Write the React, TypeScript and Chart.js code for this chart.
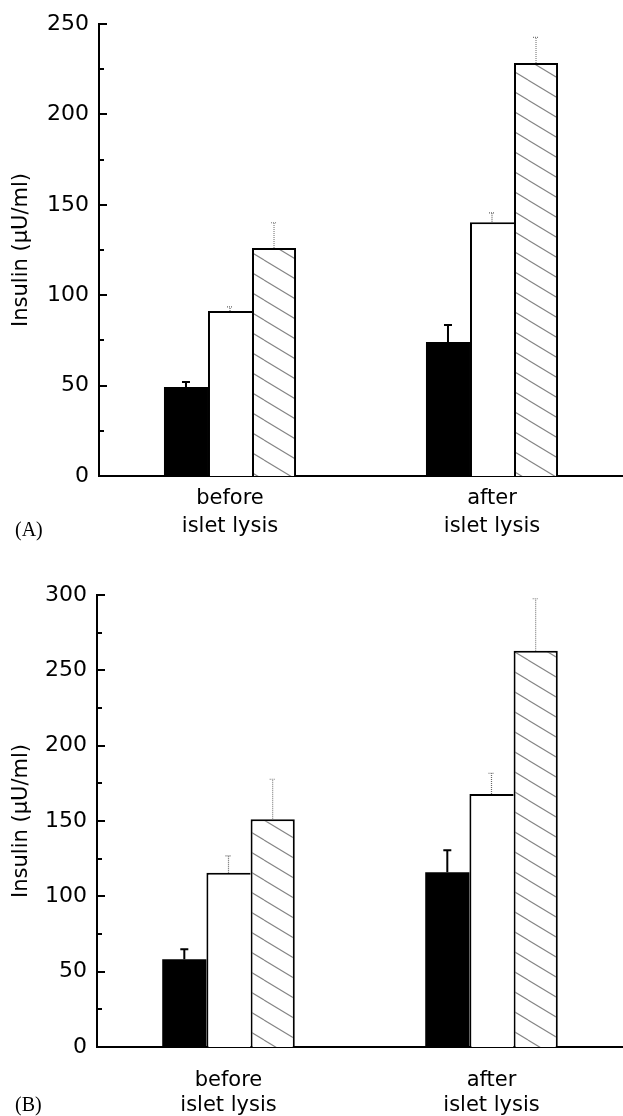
import React, { useEffect, useRef } from "react";
import { Chart, registerables } from "chart.js";

Chart.register(...registerables);

// ---------- data ----------
const categories = [["before", "islet lysis"], ["after", "islet lysis"]];
const seriesNames = ["Group 1", "Group 2", "Group 3"];
const yTitle = "Insulin (μU/ml)";

const panelA_black = [49.2, 74.1];
const panelA_white = [91.3, 140.4];
const panelA_hatched = [126.1, 228.4];
const panelA_blackErr = [2.8, 9.4];
const panelA_whiteErr = [2.2, 5.1];
const panelA_hatchedErr = [14, 14.2];
const panelA_ticks = [0, 50, 100, 150, 200, 250];

const panelB_black = [58.2, 116];
const panelB_white = [115.7, 168];
const panelB_hatched = [151.2, 263];
const panelB_blackErr = [6.7, 14.6];
const panelB_whiteErr = [11.1, 13.7];
const panelB_hatchedErr = [26.5, 34.5];
const panelB_ticks = [0, 50, 100, 150, 200, 250, 300];

// ---------- layout ----------
const FONT = "'DejaVu Sans', sans-serif";
const W = 623;

const panels = [
  {
    tag: "(A)",
    top: 0,
    height: 560,
    axisX: 99,
    plotTop: 24,
    plotBottom: 476,
    labelPad: 9,
    labelLH: 28 / 21,
    tagTop: 519,
    black: panelA_black,
    white: panelA_white,
    hatched: panelA_hatched,
    blackErr: panelA_blackErr,
    whiteErr: panelA_whiteErr,
    hatchedErr: panelA_hatchedErr,
    ticks: panelA_ticks,
  },
  {
    tag: "(B)",
    top: 560,
    height: 556,
    axisX: 97,
    plotTop: 35,
    plotBottom: 487,
    labelPad: 21,
    labelLH: 25 / 21,
    tagTop: 1094,
    black: panelB_black,
    white: panelB_white,
    hatched: panelB_hatched,
    blackErr: panelB_blackErr,
    whiteErr: panelB_whiteErr,
    hatchedErr: panelB_hatchedErr,
    ticks: panelB_ticks,
  },
];

function makeHatch(ctx: CanvasRenderingContext2D) {
  const c = document.createElement("canvas");
  c.width = 33;
  c.height = 20;
  const g = c.getContext("2d")!;
  g.fillStyle = "#fff";
  g.fillRect(0, 0, 33, 20);
  g.strokeStyle = "#858585";
  g.lineWidth = 1.1;
  for (const dy of [-20, 0, 20]) {
    g.beginPath();
    g.moveTo(0, dy);
    g.lineTo(33, dy + 20);
    g.stroke();
  }
  return ctx.createPattern(c, "repeat")!;
}

const errorBarPlugin = {
  id: "errorBars",
  afterDatasetsDraw(chart: any) {
    const { ctx } = chart;
    const y = chart.scales.y;
    chart.data.datasets.forEach((ds: any, i: number) => {
      const meta = chart.getDatasetMeta(i);
      meta.data.forEach((el: any, j: number) => {
        const v = ds.data[j];
        const e = ds.errors[j];
        const yBar = y.getPixelForValue(v);
        const yTop = y.getPixelForValue(v + e);
        ctx.save();
        ctx.strokeStyle = ds.errorColor;
        ctx.lineWidth = ds.errorWidth;
        ctx.setLineDash(ds.errorDash);
        ctx.beginPath();
        ctx.moveTo(el.x, yBar);
        ctx.lineTo(el.x, yTop);
        ctx.moveTo(el.x - ds.errorCap, yTop);
        ctx.lineTo(el.x + ds.errorCap, yTop);
        ctx.stroke();
        ctx.restore();
      });
    });
  },
};

const innerTicksPlugin = {
  id: "innerTicks",
  afterDraw(chart: any) {
    const { ctx } = chart;
    const y = chart.scales.y;
    const left = chart.chartArea.left;
    const vals: number[] = y.ticks.map((t: any) => t.value);
    ctx.save();
    ctx.strokeStyle = "#000";
    ctx.lineWidth = 2;
    ctx.beginPath();
    vals.forEach((v, k) => {
      const py = Math.round(y.getPixelForValue(v));
      ctx.moveTo(left, py);
      ctx.lineTo(left + 8, py);
      if (k < vals.length - 1) {
        const mid = (v + vals[k + 1]) / 2;
        const pm = Math.round(y.getPixelForValue(mid));
        ctx.moveTo(left, pm);
        ctx.lineTo(left + 5, pm);
      }
    });
    ctx.stroke();
    ctx.restore();
  },
};

function Panel({ cfg }: { cfg: any }) {
  const ref = useRef<HTMLCanvasElement>(null);
  useEffect(() => {
    const canvas = ref.current!;
    const ctx = canvas.getContext("2d")!;
    const hatch = makeHatch(ctx);
    const ticks: number[] = cfg.ticks;
    const chart = new Chart(ctx, {
      type: "bar",
      data: {
        labels: categories,
        datasets: [
          {
            label: seriesNames[0],
            data: cfg.black,
            errors: cfg.blackErr,
            backgroundColor: "#000",
            borderWidth: 0,
            errorColor: "#000",
            errorWidth: 2,
            errorDash: [],
            errorCap: 4,
          } as any,
          {
            label: seriesNames[1],
            data: cfg.white,
            errors: cfg.whiteErr,
            backgroundColor: "#fff",
            borderColor: "#000",
            borderWidth: { top: 2, left: 2, right: 0, bottom: 0 },
            errorColor: "#666",
            errorWidth: 1.2,
            errorDash: [1, 1],
            errorCap: 3,
          } as any,
          {
            label: seriesNames[2],
            data: cfg.hatched,
            errors: cfg.hatchedErr,
            backgroundColor: hatch,
            borderColor: "#000",
            borderWidth: 2,
            errorColor: "#777",
            errorWidth: 1.1,
            errorDash: [1, 1],
            errorCap: 3,
          } as any,
        ],
      },
      options: {
        responsive: false,
        animation: false,
        devicePixelRatio: 1,
        layout: { padding: { top: cfg.plotTop, left: 0, right: 0, bottom: 0 } },
        datasets: { bar: { barPercentage: 1, categoryPercentage: 0.504 } },
        plugins: { legend: { display: false }, tooltip: { enabled: false } },
        scales: {
          x: {
            type: "category",
            offset: true,
            grid: { display: false, drawTicks: false },
            border: { display: true, color: "#000", width: 2 },
            ticks: {
              color: "#000",
              font: { family: FONT, size: 21, lineHeight: cfg.labelLH },
              padding: cfg.labelPad,
              maxRotation: 0,
              autoSkip: false,
            },
            afterFit: (s: any) => {
              s.height = cfg.height - cfg.plotBottom;
            },
          },
          y: {
            min: ticks[0],
            max: ticks[ticks.length - 1],
            grid: { display: false, drawTicks: false },
            border: { display: true, color: "#000", width: 2 },
            ticks: {
              color: "#000",
              font: { family: FONT, size: 22 },
              padding: 10,
            },
            afterBuildTicks: (s: any) => {
              s.ticks = ticks.map((v) => ({ value: v }));
            },
            title: {
              display: true,
              text: yTitle,
              color: "#000",
              font: { family: FONT, size: 21 },
              padding: { top: 9, bottom: 0 },
            },
            afterFit: (s: any) => {
              s.width = cfg.axisX;
            },
          },
        },
      } as any,
      plugins: [errorBarPlugin, innerTicksPlugin],
    });
    return () => chart.destroy();
  }, []);
  return (
    <canvas
      ref={ref}
      width={W}
      height={cfg.height}
      style={{ position: "absolute", left: 0, top: cfg.top, width: W, height: cfg.height, display: "block" }}
    />
  );
}

export default function App() {
  return (
    <div style={{ position: "absolute", left: 0, top: 0, width: W, height: 1116, background: "#fff", overflow: "hidden" }}>
      {panels.map((p) => (
        <Panel key={p.tag} cfg={p} />
      ))}
      {panels.map((p) => (
        <div
          key={p.tag + "t"}
          style={{
            position: "absolute",
            left: 15,
            top: p.tagTop,
            fontFamily: "'Liberation Serif', serif",
            fontSize: 20,
            lineHeight: "20px",
            color: "#000",
          }}
        >
          {p.tag}
        </div>
      ))}
    </div>
  );
}
